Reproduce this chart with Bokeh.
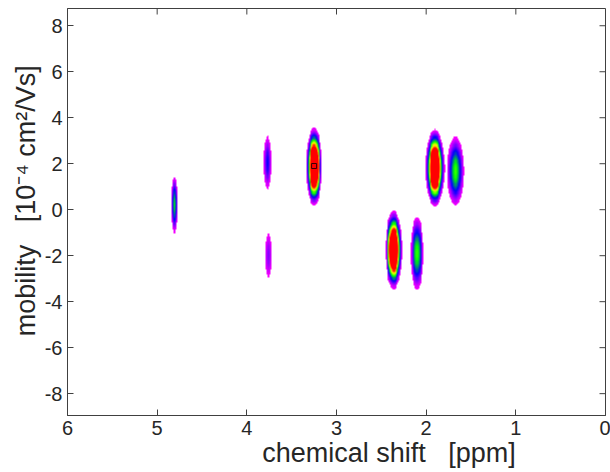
import numpy as np
from bokeh.plotting import figure
from bokeh.models import Range1d, LinearColorMapper, FixedTicker
from bokeh.embed import file_html
from bokeh.resources import INLINE

# Peaks
peak_shift = [4.81, 3.77, 3.76, 3.25, 2.36, 2.10, 1.90, 1.67]        # ppm
peak_mobility = [0.22, 2.05, -2.00, 1.88, -1.75, -1.90, 1.82, 1.68]  # 1e-4 cm2/Vs
peak_amplitude = [0.225, 0.13, 0.087, 1.00, 0.95, 0.235, 0.95, 0.24]
peak_sigma_shift = [0.021, 0.029, 0.031, 0.035, 0.037, 0.039, 0.042, 0.048]
peak_sigma_mobility = [0.68, 0.75, 0.79, 0.67, 0.68, 0.84, 0.67, 0.80]

marker_shift = [3.25]
marker_mobility = [1.90]

x_ticks = [0, 1, 2, 3, 4, 5, 6]
y_ticks = [-8, -6, -4, -2, 0, 2, 4, 6, 8]
y_tick_labels = ["-8", "-6", "-4", "-2", "0", "2", "4", "6", "8"]
NB = "\u00a0"
x_label = NB * 14 + "chemical shift" + NB * 3 + "[ppm]"
y_label = NB * 3 + "mobility" + NB * 3 + "[10\u207b\u2074 cm\u00b2/Vs]"

XMIN, XMAX = 0.0, 6.0
YMIN, YMAX = -8.95, 8.75
threshold = 0.04
saturation = 0.40

xs = np.linspace(XMIN, XMAX, 601)
ys = np.linspace(YMIN, YMAX, 355)
XX, YY = np.meshgrid(xs, ys)
Z = np.zeros_like(XX)
for x0, y0, a, sx, sy in zip(peak_shift, peak_mobility, peak_amplitude,
                             peak_sigma_shift, peak_sigma_mobility):
    Z += a * np.exp(-((XX - x0) ** 2 / (2 * sx ** 2) + (YY - y0) ** 2 / (2 * sy ** 2)))
Z = Z.astype(np.float32)

anchors = np.array([(255, 0, 255), (0, 0, 255), (0, 255, 0), (255, 255, 0), (255, 0, 0)], float)
palette = []
n = 256
for i in range(n):
    t = i / (n - 1) * (len(anchors) - 1)
    k = min(int(t), len(anchors) - 2)
    f = t - k
    c = anchors[k] * (1 - f) + anchors[k + 1] * f
    palette.append("#%02x%02x%02x" % tuple(int(round(v)) for v in c))

mapper = LinearColorMapper(palette=palette, low=threshold, high=saturation,
                           low_color=(255, 255, 255, 0.0), high_color="#ff0000")

W, H = 610, 472
BL, BR, BT, BB = 67, 5, 8, 57
p = figure(width=W, height=H, x_range=Range1d(XMAX, XMIN), y_range=Range1d(YMIN, YMAX),
           output_backend="svg", toolbar_location=None,
           min_border_left=BL, min_border_right=BR, min_border_top=BT, min_border_bottom=BB)
p.background_fill_color = "white"
p.border_fill_color = "white"
p.xgrid.visible = False
p.ygrid.visible = False
p.outline_line_color = "#404040"
p.outline_line_width = 1

p.image(image=[Z], x=XMIN, y=YMIN, dw=XMAX - XMIN, dh=YMAX - YMIN, color_mapper=mapper)
p.scatter(marker_shift, marker_mobility, marker="square", size=5,
          fill_color=None, line_color="#3a0000", line_width=1)

# inward ticks on the top and right edges of the box
frame_w = W - BL - BR
frame_h = H - BT - BB
tick_px = 6
dx = tick_px * (XMAX - XMIN) / frame_w
dy = tick_px * (YMAX - YMIN) / frame_h
p.segment(x0=x_ticks, y0=[YMAX] * len(x_ticks), x1=x_ticks, y1=[YMAX - dy] * len(x_ticks),
          line_color="#404040", line_width=1)
p.segment(x0=[XMIN] * len(y_ticks), y0=y_ticks, x1=[XMIN + dx] * len(y_ticks), y1=y_ticks,
          line_color="#404040", line_width=1)

font = "Liberation Sans"
for ax in (p.xaxis[0], p.yaxis[0]):
    ax.major_tick_in = tick_px
    ax.major_tick_out = 0
    ax.minor_tick_in = 0
    ax.minor_tick_out = 0
    ax.axis_line_color = "#404040"
    ax.major_tick_line_color = "#404040"
    ax.major_label_text_font = font
    ax.major_label_text_font_size = "20px"
    ax.major_label_text_color = "#262626"
    ax.major_label_standoff = 5
    ax.axis_label_text_font = font
    ax.axis_label_text_font_size = "27px"
    ax.axis_label_text_font_style = "normal"
    ax.axis_label_text_color = "#262626"

p.xaxis[0].ticker = FixedTicker(ticks=x_ticks)
p.yaxis[0].ticker = FixedTicker(ticks=y_ticks)
p.yaxis[0].major_label_overrides = {t: s for t, s in zip(y_ticks, y_tick_labels)}
p.xaxis[0].axis_label = x_label
p.xaxis[0].axis_label_standoff = 0
p.yaxis[0].axis_label = y_label
p.yaxis[0].axis_label_standoff = 1

open("out.html", "w").write(file_html(p, INLINE))
